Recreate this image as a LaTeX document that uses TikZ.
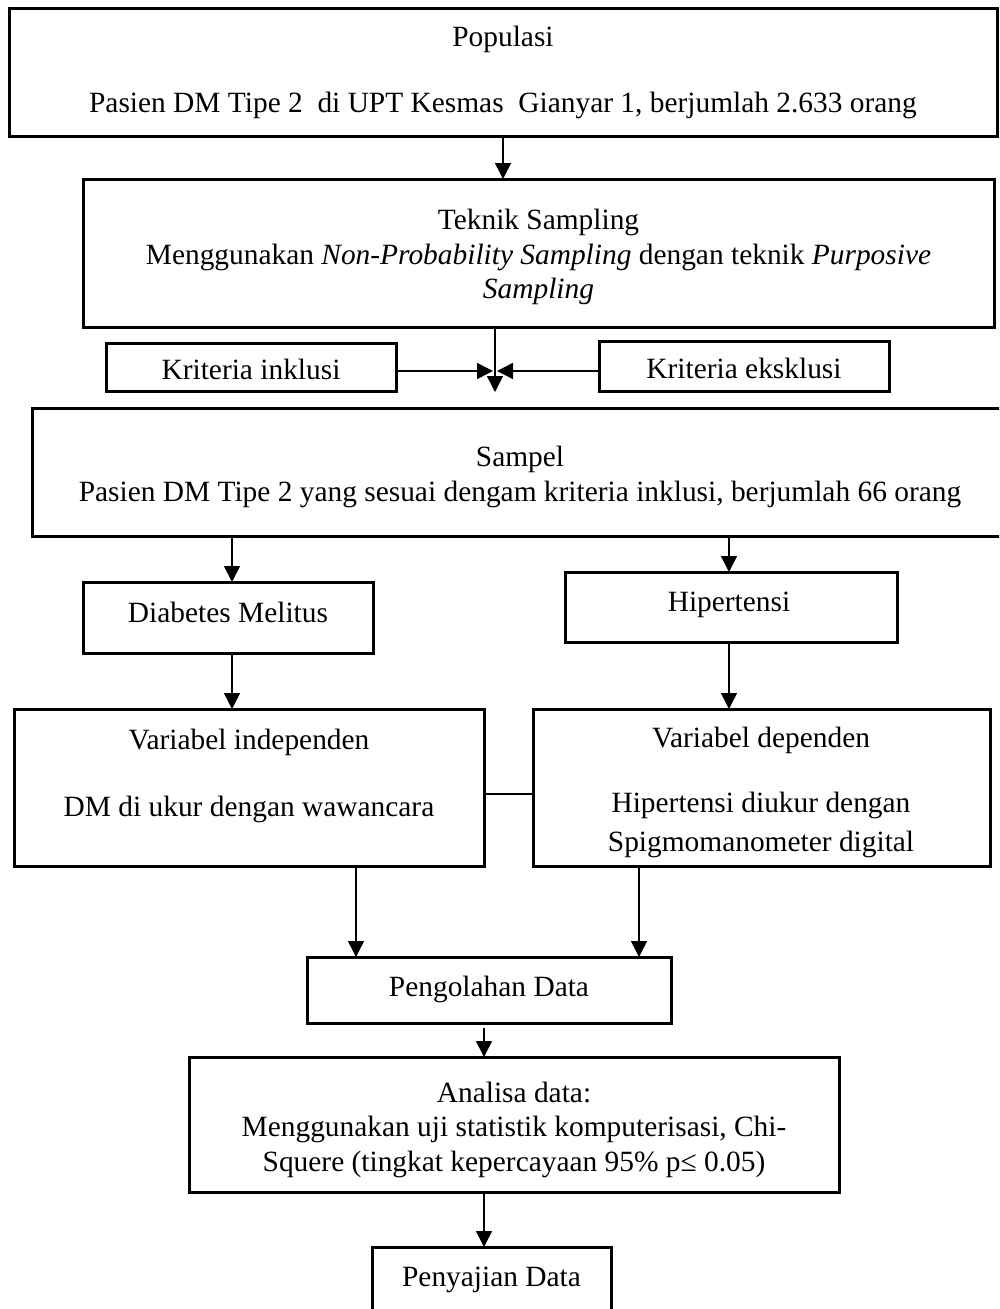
\documentclass[tikz,border=0pt]{standalone}
\usepackage{fontspec}
\setmainfont{Liberation Serif}
\usetikzlibrary{arrows.meta}
\tikzset{
  box/.style={draw, line width=3pt, rectangle, inner sep=0pt, outer sep=0pt},
  txt/.style={anchor=base, inner sep=0pt, outer sep=0pt, font=\fontsize{29.4pt}{34pt}\selectfont},
  arr/.style={line width=1.5pt, -{Triangle[length=16pt,width=16pt]}},
  ln/.style={line width=1.5pt},
}
\begin{document}
\begin{tikzpicture}[x=1pt,y=-1pt]
\clip (0,0) rectangle (999,1309);
\fill[white] (0,0) rectangle (999,1309);
% boxes
\node[box, minimum width=988pt, minimum height=128pt] (pop) at (503,72) {};
\node[box, minimum width=911pt, minimum height=148pt] (tek) at (538.5,253) {};
\node[box, minimum width=290pt, minimum height=48pt] (ink) at (251,367) {};
\node[box, minimum width=290pt, minimum height=50pt] (eks) at (744,366) {};
\node[box, minimum width=976pt, minimum height=128pt] (sam) at (520,472) {};
\node[box, minimum width=290pt, minimum height=71pt] (dia) at (228,617.5) {};
\node[box, minimum width=332pt, minimum height=70pt] (hip) at (731,607) {};
\node[box, minimum width=470pt, minimum height=157pt] (vin) at (249,787.5) {};
\node[box, minimum width=457pt, minimum height=157pt] (vde) at (761.5,787.5) {};
\node[box, minimum width=364pt, minimum height=66pt] (pen) at (489,990) {};
\node[box, minimum width=650pt, minimum height=135pt] (ana) at (514,1124.5) {};
\node[box, minimum width=239pt, minimum height=73pt] (pny) at (491.5,1283.5) {};
% texts
\node[txt] (t1a) at (503,46) {Populasi};
\node[txt] (t1b) at (503,112) {Pasien DM Tipe 2\ \ di UPT Kesmas\ \ Gianyar 1, berjumlah 2.633 orang};
\node[txt] (t2a) at (538.5,229) {Teknik Sampling};
\node[txt] (t2b) at (538.5,264) {Menggunakan \textit{Non-Probability Sampling} dengan teknik \textit{Purposive}};
\node[txt] (t2c) at (538.5,298) {\textit{Sampling}};
\node[txt] (t3) at (251,379) {Kriteria inklusi};
\node[txt] (t4) at (744,378) {Kriteria eksklusi};
\node[txt] (t5a) at (520,466) {Sampel};
\node[txt] (t5b) at (520,501) {Pasien DM Tipe 2 yang sesuai dengam kriteria inklusi, berjumlah 66 orang};
\node[txt] (t6) at (228,622) {Diabetes Melitus};
\node[txt] (t7) at (729,611) {Hipertensi};
\node[txt] (t8a) at (249,749) {Variabel independen};
\node[txt] (t8b) at (249,816) {DM di ukur dengan wawancara};
\node[txt] (t9a) at (761,747) {Variabel dependen};
\node[txt] (t9b) at (761,812) {Hipertensi diukur dengan};
\node[txt] (t9c) at (761,851) {Spigmomanometer digital};
\node[txt] (t10) at (489,996) {Pengolahan Data};
\node[txt] (t11a) at (514,1102) {Analisa data:};
\node[txt] (t11b) at (514,1136) {Menggunakan uji statistik komputerisasi, Chi-};
\node[txt] (t11c) at (514,1171) {Squere (tingkat kepercayaan 95\% p≤ 0.05)};
\node[txt] (t12) at (491.5,1286) {Penyajian Data};
% junction points
\coordinate (jd) at (495,392);
\coordinate (jl) at (493,371);
\coordinate (jr) at (497,371);
% connectors
\draw[arr] (pop.south) -- (pop.south |- tek.north);
\draw[arr] (tek.south -| jd) -- (jd);
\draw[arr] (ink.east |- jl) -- (jl);
\draw[arr] (eks.west |- jr) -- (jr);
\draw[arr] ([xshift=4pt]dia.north |- sam.south) -- ([xshift=4pt]dia.north);
\draw[arr] ([xshift=-2pt]hip.north |- sam.south) -- ([xshift=-2pt]hip.north);
\draw[arr] ([xshift=4pt]dia.south) -- ([xshift=4pt]dia.south |- vin.north);
\draw[arr] ([xshift=-2pt]hip.south) -- ([xshift=-2pt]hip.south |- vde.north);
\draw[ln] ([yshift=-6.5pt]vin.east) -- ([yshift=-6.5pt]vin.east -| vde.west);
\draw[arr] ([xshift=-133pt]pen.north |- vin.south) -- ([xshift=-133pt]pen.north);
\draw[arr] ([xshift=150pt]pen.north |- vde.south) -- ([xshift=150pt]pen.north);
\draw[arr, shorten <=5pt] ([xshift=-5pt]pen.south) -- ([xshift=-5pt]pen.south |- ana.north);
\draw[arr] ([xshift=-30pt]ana.south) -- ([xshift=-30pt]ana.south |- pny.north);
\end{tikzpicture}
\end{document}
